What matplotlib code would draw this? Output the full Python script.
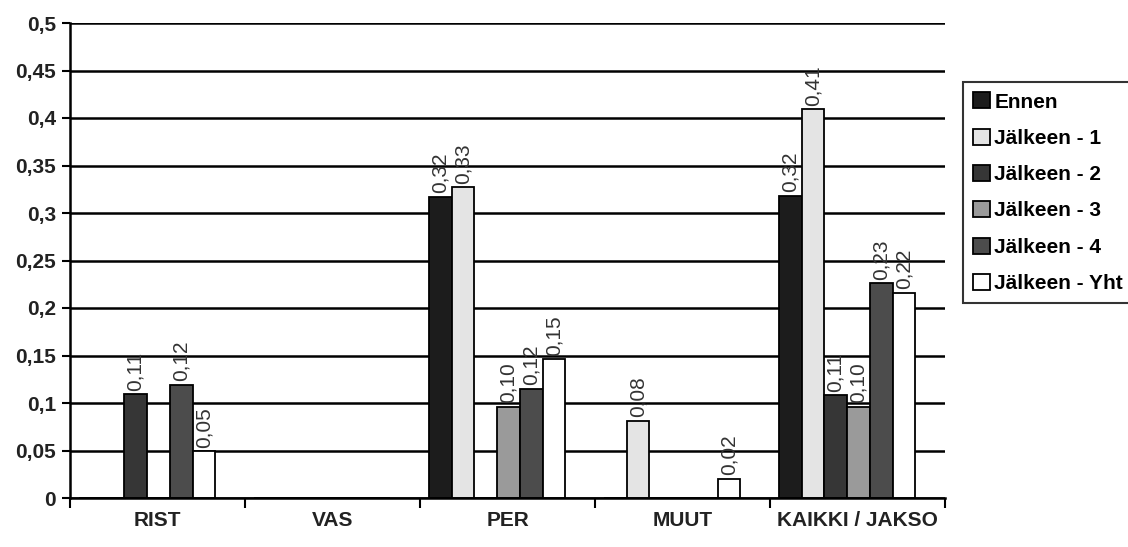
import numpy as np
import matplotlib
matplotlib.use("Agg")
import matplotlib.pyplot as plt

plt.rcParams['font.family'] = ['Liberation Sans', 'DejaVu Sans']

categories = ["RIST", "VAS", "PER", "MUUT", "KAIKKI / JAKSO"]
series_names = ["Ennen", "Jälkeen - 1", "Jälkeen - 2", "Jälkeen - 3", "Jälkeen - 4", "Jälkeen - Yht"]
ennen = [0.0, 0.0, 0.317, 0.0, 0.318]
jalkeen_1 = [0.0, 0.0, 0.327, 0.081, 0.409]
jalkeen_2 = [0.109, 0.0, 0.0, 0.0, 0.108]
jalkeen_3 = [0.0, 0.0, 0.096, 0.0, 0.096]
jalkeen_4 = [0.119, 0.0, 0.115, 0.0, 0.226]
jalkeen_yht = [0.049, 0.0, 0.146, 0.020, 0.216]
yticks = [0, 0.05, 0.1, 0.15, 0.2, 0.25, 0.3, 0.35, 0.4, 0.45, 0.5]
ytick_labels = ["0", "0,05", "0,1", "0,15", "0,2", "0,25", "0,3", "0,35", "0,4", "0,45", "0,5"]

all_series = [ennen, jalkeen_1, jalkeen_2, jalkeen_3, jalkeen_4, jalkeen_yht]
colors = ["#1c1c1c", "#e4e4e4", "#363636", "#9a9a9a", "#4c4c4c", "#ffffff"]

fig = plt.figure(figsize=(11.28, 5.47), dpi=100)
ax = fig.add_axes([70/1128, 1-498/547, 875/1128, 475/547])

x = np.arange(len(categories))
w = 0.13
offset = 0.05

for gy in yticks:
    ax.axhline(gy, color="black", lw=1.8, zorder=1)

handles = []
for j, (vals, name, col) in enumerate(zip(all_series, series_names, colors)):
    left = x - 0.5 + offset + j * w
    b = ax.bar(left, vals, width=w, align='edge', color=col, edgecolor="black",
               linewidth=1.3, zorder=2, label=name)
    handles.append(b)
    for xi, v in zip(left, vals):
        if v > 0:
            lbl = ("%.2f" % (round(v + 1e-9, 2))).replace('.', ',')
            ax.text(xi + w/2, v + 0.004, lbl, rotation=90, ha='center', va='bottom',
                    fontsize=15, color="#333333", zorder=3)

ax.set_xlim(-0.5, len(categories) - 0.5)
ax.set_ylim(0, 0.5)
ax.set_yticks(yticks)
ax.set_yticklabels(ytick_labels, fontsize=15, fontweight='bold', color="#222222")
ax.set_xticks(x)
ax.set_xticklabels(categories, fontsize=15, fontweight='bold', color="#222222")
ax.tick_params(axis='x', which='major', length=0, pad=9)
ax.set_xticks(np.arange(len(categories) + 1) - 0.5, minor=True)
ax.tick_params(axis='x', which='minor', length=7, width=1.5, direction='out')
ax.tick_params(axis='y', length=6, width=1.5, direction='out', pad=4)

for s in ['top', 'right']:
    ax.spines[s].set_visible(False)
ax.spines['left'].set_linewidth(1.8)
ax.spines['bottom'].set_linewidth(1.8)

leg = fig.legend(handles=handles, labels=series_names, loc='upper left',
                 bbox_to_anchor=(963/1128, 1-82/547), frameon=True, fancybox=False,
                 edgecolor='black', prop={'size': 15, 'weight': 'bold'},
                 handlelength=0.8, handleheight=0.8, handletextpad=0.2,
                 labelspacing=0.82, borderpad=0.5, borderaxespad=0)
leg.get_frame().set_linewidth(1.5)

fig.savefig("out.png", dpi=100)
